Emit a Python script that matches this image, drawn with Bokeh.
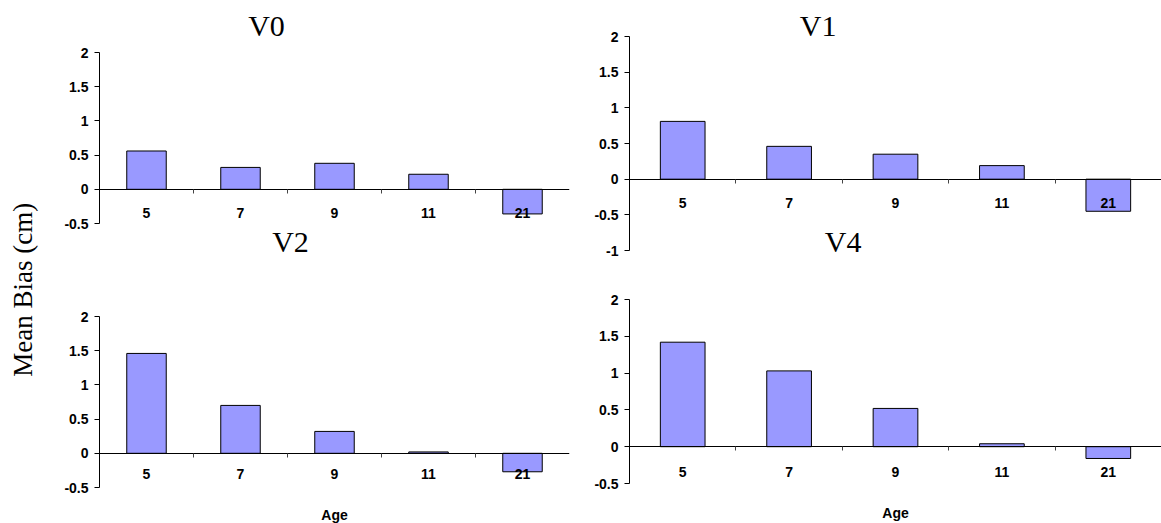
import math
from bokeh.plotting import figure
from bokeh.layouts import row, column
from bokeh.models import LinearAxis, FixedTicker, Range1d, Label
from bokeh.embed import file_html
from bokeh.resources import INLINE

# ---- data ----
ages = ["5", "7", "9", "11", "21"]
v0 = [0.56, 0.32, 0.38, 0.22, -0.36]
v1 = [0.81, 0.46, 0.35, 0.19, -0.45]
v2 = [1.46, 0.70, 0.32, 0.02, -0.27]
v4 = [1.42, 1.03, 0.52, 0.04, -0.16]
panel_titles = ["V0", "V1", "V2", "V4"]
y_label = "Mean Bias (cm)"
x_label = "Age"

BAR = "#9999FF"
SANS = "Liberation Sans"
SERIF = "Liberation Serif"

centers = [i + 0.5 for i in range(len(ages))]
bounds = [i + 1 for i in range(len(ages) - 1)]


class Panel:
    """A bar panel whose frame fills the figure height; the value axis covers
    [ymin, ymax] between pixel rows top_px and bot_px of the figure."""

    def __init__(self, values, ymin, ymax, width, height, bl, br, top_px, bot_px, label_standoff):
        self.scale = (bot_px - top_px) / (ymax - ymin)
        self.top_px = top_px
        self.ymax = ymax
        self.bl = bl
        self.cat_w = (width - bl - br) / len(ages)
        y0 = ymin - (height - bot_px) / self.scale
        y1 = ymax + top_px / self.scale
        p = figure(width=width, height=height, x_axis_type=None, y_axis_type=None,
                   x_range=Range1d(0, len(ages)), y_range=Range1d(y0, y1),
                   output_backend="svg", toolbar_location=None,
                   min_border_left=bl, min_border_right=br,
                   min_border_top=0, min_border_bottom=0)
        p.outline_line_color = None
        p.background_fill_color = "white"
        p.border_fill_color = "white"

        p.vbar(x=centers, top=values, bottom=0, width=0.42,
               fill_color=BAR, line_color="black", line_width=1)

        n = int(round((ymax - ymin) / 0.5))
        yt = [ymin + 0.5 * k for k in range(n + 1)]
        yax = LinearAxis(ticker=FixedTicker(ticks=yt), bounds=(ymin, ymax),
                         major_label_overrides={t: f"{t:g}" for t in yt})
        yax.major_tick_in = 0
        yax.major_tick_out = 5
        yax.minor_tick_line_color = None
        yax.axis_line_color = "black"
        yax.major_tick_line_color = "black"
        yax.major_label_text_font = SANS
        yax.major_label_text_font_style = "bold"
        yax.major_label_text_font_size = "14px"
        yax.major_label_text_color = "black"
        yax.major_label_standoff = 6
        p.add_layout(yax, "left")

        xa = LinearAxis(ticker=FixedTicker(ticks=centers, minor_ticks=bounds), fixed_location=0,
                        major_label_overrides={c: a for c, a in zip(centers, ages)})
        xa.axis_line_color = "black"
        xa.major_tick_line_color = None
        xa.major_tick_out = 0
        xa.major_tick_in = 0
        xa.minor_tick_line_color = "#444444"
        xa.minor_tick_out = 4
        xa.minor_tick_in = 0
        xa.major_label_standoff = label_standoff
        xa.major_label_text_font = SANS
        xa.major_label_text_font_style = "bold"
        xa.major_label_text_font_size = "14px"
        xa.major_label_text_color = "black"
        p.add_layout(xa, "below")
        self.p = p

    def dx(self, px_abs, left_abs):
        return (px_abs - left_abs - self.bl) / self.cat_w

    def dy(self, py):
        return self.ymax - (py - self.top_px) / self.scale


def add_text(panel, text, x, y, font, size, bold=False):
    panel.p.add_layout(Label(x=x, y=y, text=text, text_align="center",
                             text_baseline="middle", text_font=font,
                             text_font_size=size, text_color="black",
                             text_font_style="bold" if bold else "normal"))


# left column (starts at x=45), right column (starts at x=580)
L, R = 45, 580
TOP_L, TOP_R = 260, 262  # heights of the upper panels
a0 = Panel(v0, -0.5, 2, 535, TOP_L, 54, 11, 52, 223, 15)
a2 = Panel(v2, -0.5, 2, 535, 523 - TOP_L, 54, 11, 316 - TOP_L, 487 - TOP_L, 12)
a1 = Panel(v1, -1, 2, 581, TOP_R, 48, 0, 36, 250, 15)
a3 = Panel(v4, -0.5, 2, 581, 523 - TOP_R, 49, 0, 299 - TOP_R, 483 - TOP_R, 16)

add_text(a0, panel_titles[0], a0.dx(266, L), a0.dy(25), SERIF, "30px")
add_text(a1, panel_titles[1], a1.dx(817, R), a1.dy(25), SERIF, "30px")
add_text(a0, panel_titles[2], a0.dx(290, L), a0.dy(240.5), SERIF, "30px")
add_text(a1, panel_titles[3], a1.dx(842, R), a1.dy(240.5), SERIF, "30px")
add_text(a2, x_label, len(ages) / 2, a2.dy(514 - TOP_L), SANS, "14px", bold=True)
add_text(a3, x_label, len(ages) / 2, a3.dy(512 - TOP_R), SANS, "14px", bold=True)

# y label strip
pl = figure(width=45, height=523, x_range=Range1d(0, 1), y_range=Range1d(0, 1),
            x_axis_type=None, y_axis_type=None, output_backend="svg",
            toolbar_location=None, min_border=0)
pl.outline_line_color = None
pl.add_layout(Label(x=0.51, y=0.447, text=y_label, angle=math.pi / 2,
                    text_align="center", text_baseline="middle",
                    text_font=SERIF, text_font_size="27px", text_color="black"))

layout = row(pl, column(a0.p, a2.p, spacing=0), column(a1.p, a3.p, spacing=0), spacing=0)

open("out.html", "w").write(file_html(layout, INLINE))
